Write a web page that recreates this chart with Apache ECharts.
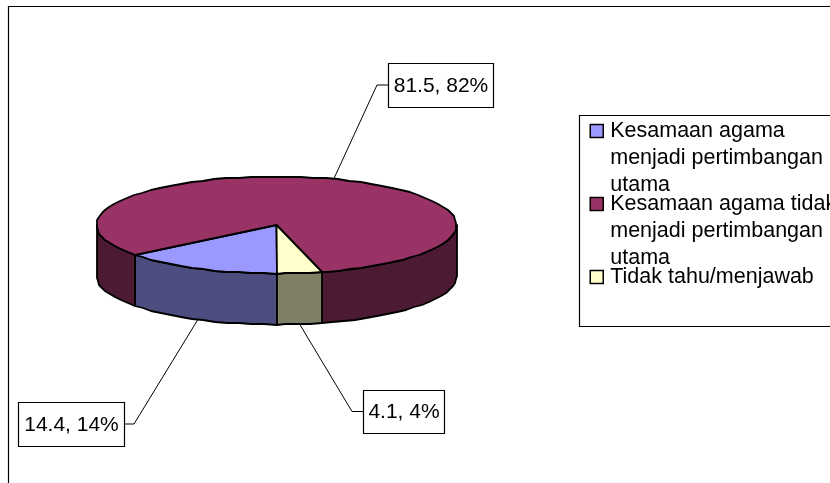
<!DOCTYPE html>
<html><head><meta charset="utf-8">
<style>html,body{margin:0;padding:0;background:#fff}#c{width:830px;height:483px}</style>
<script src="https://cdn.jsdelivr.net/npm/echarts@6/dist/echarts.min.js"></script></head>
<body><div id="c"></div>
<script>
const categories = ['Kesamaan agama menjadi pertimbangan utama','Kesamaan agama tidak menjadi pertimbangan utama','Tidak tahu/menjawab'];
const legendLines = [['Kesamaan agama','menjadi pertimbangan','utama'],['Kesamaan agama tidak','menjadi pertimbangan','utama'],['Tidak tahu/menjawab']];
const values = [14.4, 81.5, 4.1];
const topColors = ['#9999FF','#993366','#FFFFCC'];
const sideColors = ['#4D4D80','#4D1A33','#808066'];

// layout constants
const CX=276.5, CY=225, RX=180, RY=48.5, DEPTH=51, START=180, STEP=4;
const labelBoxes = [
  {x:18,y:402,w:106,h:44,side:'right'},
  {x:388,y:63,w:105,h:44,side:'left'},
  {x:363,y:390,w:81,h:43,side:'left'}
];
const total = values.reduce((a,b)=>a+b,0);
function pt(deg,dy){const r=deg*Math.PI/180;return [Math.round(CX+RX*Math.sin(r)),Math.round(CY-RY*Math.cos(r)+(dy||0))];}
function arc(a,b,dy){const p=[];for(let d=a;d<b;d+=STEP)p.push(pt(d,dy));p.push(pt(b,dy));return p;}
function wall(a,b,color){
  const top=arc(a,b,0), bot=arc(a,b,DEPTH).reverse();
  return {type:'polygon',shape:{points:top.concat(bot)},style:{fill:color,stroke:'#000',lineWidth:1.8,lineJoin:'round'}};
}
function renderSlice(i){
  return function(params,api){
    const v=api.value(0);
    let before=0;for(let k=0;k<i;k++)before+=values[k];
    const a=START+before/total*360, b=a+v/total*360, mid=(a+b)/2;
    const kids=[];
    // visible wall portion: the front half, 90..270 degrees (mod 360)
    [[90,270],[450,630]].forEach(function(w){
      const s=Math.max(a,w[0]), e=Math.min(b,w[1]);
      if(e>s) kids.push(wall(s,e,sideColors[i]));
    });
    // top face
    kids.push({type:'polygon',shape:{points:[[CX,CY]].concat(arc(a,b,0))},
      style:{fill:topColors[i],stroke:'#000',lineWidth:1.8,lineJoin:'round'}});
    // leader
    const m=mid%360, front=(m>90&&m<270);
    const r=mid*Math.PI/180;
    const sx=CX+RX*Math.sin(r), sy=CY-RY*Math.cos(r)+(front?DEPTH:0);
    const box=labelBoxes[i], ly=box.y+box.h/2;
    const ex=box.side==='left'?box.x:box.x+box.w, kx=box.side==='left'?box.x-11:box.x+box.w+10;
    kids.push({type:'polyline',shape:{points:[[sx,sy],[kx,ly],[ex,ly]]},style:{fill:null,stroke:'#000',lineWidth:1}});
    // label
    kids.push({type:'rect',shape:{x:box.x+.5,y:box.y+.5,width:box.w,height:box.h},style:{fill:'#fff',stroke:'#000',lineWidth:1.2}});
    kids.push({type:'text',style:{x:box.x+box.w/2+.5,y:ly+1,text:v+', '+Math.round(v/total*100)+'%',align:'center',verticalAlign:'middle',
      font:'21px "Liberation Sans"',fill:'#000'}});
    return {type:'group',children:kids};
  };
}
const chart=echarts.init(document.getElementById('c'),null,{renderer:'canvas'});
chart.setOption({
  animation:false,
  backgroundColor:'#fff',
  tooltip:{show:false},
  graphic:[
    {type:'rect',z:-10,shape:{x:8.5,y:6.5,width:900,height:600},style:{fill:'#fff',stroke:'#000',lineWidth:1.2}},
    {type:'rect',z:-9,shape:{x:579.5,y:115.5,width:400,height:211},style:{fill:'#fff',stroke:'#000',lineWidth:1.2}}
  ],
  legend:{
    orient:'vertical',left:589.5,top:63.5,padding:0,itemGap:-62,itemWidth:13,itemHeight:13,height:400,
    selectedMode:false,icon:'rect',
    data:categories.map(function(n,i){return {name:n,itemStyle:{color:topColors[i],borderColor:'#000',borderWidth:1.5}};}),
    formatter:function(n){
      const l=legendLines[categories.indexOf(n)].slice();
      while(l.length<3)l.push('');
      return ['',''].concat(l).join('\n');
    },
    textStyle:{fontFamily:'Liberation Sans',fontSize:21.5,lineHeight:27,color:'#000',padding:[0,0,0,2]}
  },
  series:categories.map(function(n,i){return {
    type:'custom',name:n,coordinateSystem:'none',silent:true,
    itemStyle:{color:topColors[i]},
    renderItem:renderSlice(i),
    data:[{name:n,value:[values[i]]}]
  };})
});
</script></body></html>
